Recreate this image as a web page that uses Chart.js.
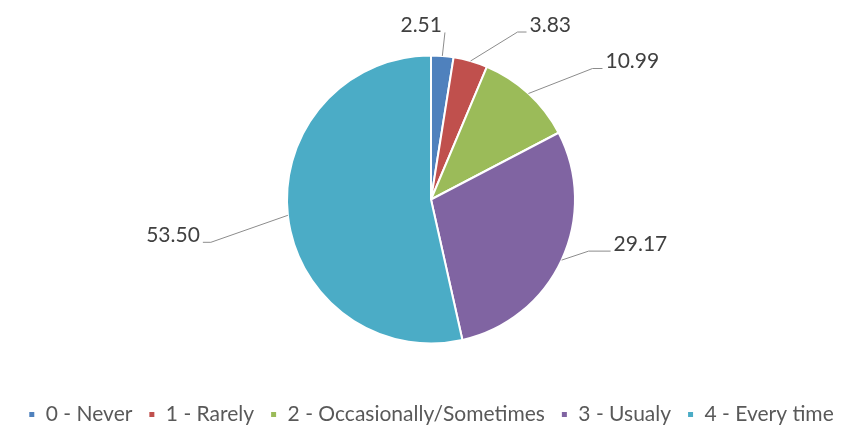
<!DOCTYPE html>
<html>
<head>
<meta charset="utf-8">
<script src="https://cdn.jsdelivr.net/npm/chart.js@4"></script>
<style>
  html, body { margin: 0; padding: 0; background: #ffffff; }
  #wrap { width: 860px; height: 435px; }
</style>
</head>
<body>
<div id="wrap"><canvas id="c" width="860" height="435"></canvas></div>
<script>
const categories = ['0 - Never', '1 - Rarely', '2 - Occasionally/Sometimes', '3 - Usualy', '4 - Every time'];
const values = [2.51, 3.83, 10.99, 29.17, 53.50];
const colors = ['#4F81BD', '#C0504D', '#9BBB59', '#8064A2', '#4BACC6'];

// leader line layout per slice: [elbow dx, elbow dy, tail length, text side]
const leaderLayout = [
  [2.6, -23.5, 0, -1],
  [47, -29, 9, 1],
  [64, -25, 10, 1],
  [27, -9, 22, 1],
  [-77, 27, -8, -1]
];

const leaderLabels = {
  id: 'leaderLabels',
  afterDatasetsDraw(chart) {
    const ctx = chart.ctx;
    const meta = chart.getDatasetMeta(0);
    ctx.save();
    meta.data.forEach((arc, i) => {
      const p = arc.getProps(['x', 'y', 'startAngle', 'endAngle', 'outerRadius'], true);
      const mid = (p.startAngle + p.endAngle) / 2;
      const ax = p.x + Math.cos(mid) * p.outerRadius;
      const ay = p.y + Math.sin(mid) * p.outerRadius;
      const [dx, dy, tail, side] = leaderLayout[i];
      const ex = ax + dx, ey = ay + dy, tx = ex + tail;
      ctx.beginPath();
      ctx.strokeStyle = '#8c8c8c';
      ctx.lineWidth = 1;
      ctx.moveTo(ax, ay);
      ctx.lineTo(ex, ey);
      ctx.lineTo(tx, ey);
      ctx.stroke();
      ctx.fillStyle = '#404040';
      ctx.font = '21px Lato';
      ctx.textAlign = side > 0 ? 'left' : 'right';
      ctx.textBaseline = 'middle';
      ctx.fillText(chart.data.datasets[0].data[i].toFixed(2), tx + side * 3, ey - 7);
    });
    ctx.restore();
  }
};

new Chart(document.getElementById('c'), {
  type: 'pie',
  data: {
    labels: categories,
    datasets: [{
      data: values,
      backgroundColor: colors,
      borderColor: '#ffffff',
      borderWidth: 2,
      radius: 144
    }]
  },
  options: {
    responsive: false,
    animation: false,
    layout: { padding: { top: 11, bottom: 0, left: 2, right: 0 } },
    plugins: {
      legend: {
        position: 'bottom',
        labels: {
          boxWidth: 7,
          boxHeight: 7,
          padding: 16,
          color: '#595959',
          font: { family: 'Lato', size: 21 }
        }
      },
      tooltip: { enabled: false }
    }
  },
  plugins: [leaderLabels]
});
</script>
</body>
</html>
